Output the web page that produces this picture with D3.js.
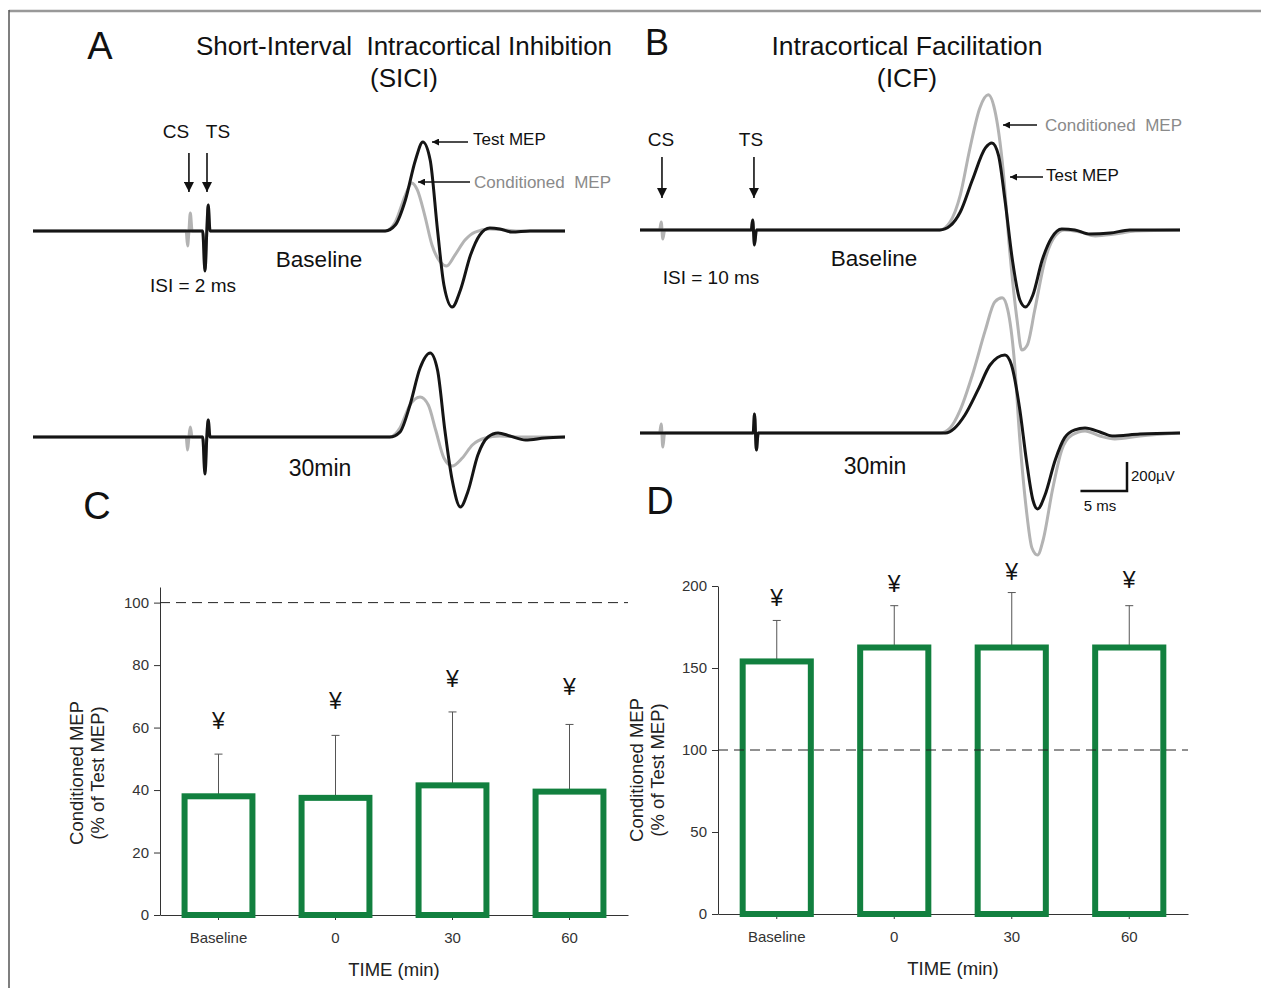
<!DOCTYPE html>
<html>
<head>
<meta charset="utf-8">
<script src="https://cdn.jsdelivr.net/npm/d3@7"></script>
<style>
  body { margin: 0; background: #fff; }
  svg { font-family: "Liberation Sans", Arial, sans-serif; }
  .axis text { font-size: 15px; fill: #333; }
  .axis path, .axis line { stroke: #333; }
</style>
</head>
<body>
<svg id="fig" width="1261" height="988"></svg>
<script>
// ---------- data: EMG traces, [time ms, amplitude uV] ----------
const siciBaseTest = [[0,0],[18.5,0],[18.75,-276],[18.95,0],[19.1,179],[19.3,0],[38.4,0],[39.5,41],[40.6,214],[41.7,490],[42.5,614],[43.3,490],[44.1,7],[44.8,-372],[45.7,-524],[46.6,-407],[47.7,-166],[48.7,-28],[49.8,21],[50.9,14],[52.2,-7],[54.2,0],[58,0]];
const siciBaseCond = [[0,0],[16.7,0],[16.85,-103],[17.0,0],[17.15,124],[17.35,0],[18.5,0],[18.75,-276],[18.95,0],[19.1,179],[19.3,0],[38.4,0],[39.5,62],[40.6,248],[41.3,331],[41.9,283],[42.7,110],[43.5,-97],[44.4,-214],[45.1,-241],[46.0,-166],[47.1,-62],[48.2,-7],[49.8,14],[51.5,7],[53.1,0],[58,0]];
const sici30Test = [[0,0],[18.5,0],[18.75,-255],[18.95,0],[19.1,117],[19.3,0],[38.9,0],[40.0,34],[41.1,221],[42.2,476],[43.3,579],[44.1,462],[44.9,48],[45.7,-297],[46.6,-483],[47.4,-379],[48.5,-124],[49.6,0],[50.7,28],[52.0,7],[53.7,-21],[55.8,-7],[58,0]];
const sici30Cond = [[0,0],[16.7,0],[16.85,-90],[17.0,0],[17.15,69],[17.35,0],[18.5,0],[18.75,-255],[18.95,0],[19.1,117],[19.3,0],[38.9,0],[40.0,62],[41.1,221],[42.2,276],[43.1,221],[43.9,48],[44.8,-145],[45.7,-200],[46.8,-145],[47.9,-55],[49.3,-7],[50.9,7],[53.1,0],[58,0]];

const icfBaseTest = [[0,0],[11.95,0],[12.1,69],[12.3,-103],[12.5,0],[32.2,0],[33.3,28],[34.4,124],[35.7,345],[37.1,566],[37.8,600],[38.5,517],[39.2,207],[40.0,-207],[40.8,-483],[41.4,-531],[42.2,-448],[43.2,-207],[44.2,-55],[45.3,7],[46.7,0],[48.3,-28],[50.5,-21],[52.6,0],[58,0]];
const icfBaseCond = [[0,0],[2.1,0],[2.28,55],[2.45,-62],[2.65,0],[11.95,0],[12.1,69],[12.3,-103],[12.5,0],[32.2,0],[33.3,55],[34.4,241],[35.4,552],[36.5,842],[37.4,932],[38.1,828],[39.0,414],[39.7,-138],[40.5,-621],[41.0,-828],[41.6,-793],[42.4,-552],[43.5,-207],[44.6,-41],[45.6,0],[47.3,-14],[48.9,-41],[51.0,-28],[53.2,-7],[58,0]];
const icf30Test = [[0,0],[12.15,0],[12.3,131],[12.5,-117],[12.7,0],[32.8,0],[33.8,34],[34.9,124],[36.3,297],[37.6,469],[39.2,538],[39.9,469],[40.8,159],[41.5,-186],[42.2,-462],[42.7,-524],[43.5,-428],[44.6,-186],[45.6,-34],[46.7,21],[47.8,34],[49.4,7],[50.7,-21],[53.7,-7],[58,0]];
const icf30Cond = [[0,0],[2.1,0],[2.28,62],[2.45,-97],[2.65,0],[12.15,0],[12.3,131],[12.5,-117],[12.7,0],[32.2,0],[33.3,34],[34.4,159],[35.7,400],[37.1,711],[38.1,904],[38.9,932],[39.5,849],[40.2,504],[40.8,-48],[41.5,-531],[42.1,-793],[42.7,-842],[43.3,-738],[44.3,-393],[45.3,-117],[46.4,-14],[47.8,14],[49.4,-21],[51.0,-41],[53.7,-21],[58,0]];

const siciStim = {cs: 17.0, ts: 18.97};
const icfStim = {cs: 2.36, ts: 12.24};

// ---------- data: bar charts ----------
const categories = ['Baseline', '0', '30', '60'];
const siciMean = [38, 37.5, 41.5, 39.5];
const siciSem = [13.5, 20, 23.5, 21.5];
const siciMark = [62, 68.5, 75.5, 73];
const siciTicks = [0, 20, 40, 60, 80, 100];
const icfMean = [154, 162.5, 162.5, 162.5];
const icfSem = [25, 25.5, 33.5, 25.5];
const icfMark = [193, 201, 208.5, 203.5];
const icfTicks = [0, 50, 100, 150, 200];

const svg = d3.select('#fig');
const GREEN = '#12803f';

// frame
svg.append('line').attr('x1', 9).attr('x2', 1261).attr('y1', 11).attr('y2', 11)
  .attr('stroke', '#999').attr('stroke-width', 2.5);
svg.append('line').attr('x1', 9).attr('x2', 9).attr('y1', 10).attr('y2', 988)
  .attr('stroke', '#555').attr('stroke-width', 1.5);

function txt(x, y, s, size, opts = {}) {
  return svg.append('text').attr('x', x).attr('y', y)
    .attr('font-size', size)
    .attr('text-anchor', opts.anchor || 'middle')
    .attr('fill', opts.fill || '#111')
    .style('white-space', 'pre')
    .text(s);
}

// panel letters + titles
txt(100, 59, 'A', 38);
txt(657, 55, 'B', 36);
txt(97, 519, 'C', 38);
txt(660, 514, 'D', 38);
txt(404, 55, 'Short-Interval  Intracortical Inhibition', 26);
txt(404, 87, '(SICI)', 26);
txt(907, 55, 'Intracortical Facilitation', 26.5);
txt(907, 87, '(ICF)', 26.5);

// ---------- traces ----------
const xA = d3.scaleLinear().domain([0, 58]).range([33, 565]);
const xB = d3.scaleLinear().domain([0, 58]).range([640, 1180]);
const rowY = base => d3.scaleLinear().domain([0, 200]).range([base, base - 29]);
const yA0 = rowY(231), yA1 = rowY(437), yB0 = rowY(230), yB1 = rowY(433);

function trace(data, x, y, color) {
  const line = d3.line().curve(d3.curveMonotoneX)
    .x(d => x(d[0])).y(d => y(d[1]));
  svg.append('path').datum(data).attr('d', line)
    .attr('fill', 'none').attr('stroke', color)
    .attr('stroke-width', 3).attr('stroke-linejoin', 'round');
}
trace(siciBaseCond, xA, yA0, '#b3b3b3');
trace(siciBaseTest, xA, yA0, '#151515');
trace(sici30Cond, xA, yA1, '#b3b3b3');
trace(sici30Test, xA, yA1, '#151515');
trace(icfBaseCond, xB, yB0, '#b3b3b3');
trace(icfBaseTest, xB, yB0, '#151515');
trace(icf30Cond, xB, yB1, '#b3b3b3');
trace(icf30Test, xB, yB1, '#151515');

// arrow heads
const defs = svg.append('defs');
defs.append('marker').attr('id', 'head').attr('viewBox', '0 0 10 10')
  .attr('refX', 10).attr('refY', 5).attr('markerWidth', 7).attr('markerHeight', 7)
  .attr('markerUnits', 'userSpaceOnUse').attr('orient', 'auto')
  .append('path').attr('d', 'M0,0L10,5L0,10Z').attr('fill', '#111');
defs.append('marker').attr('id', 'headv').attr('viewBox', '0 0 10 10')
  .attr('refX', 10).attr('refY', 5).attr('markerWidth', 11).attr('markerHeight', 10)
  .attr('markerUnits', 'userSpaceOnUse').attr('orient', 'auto')
  .append('path').attr('d', 'M0,0L10,5L0,10Z').attr('fill', '#111');

function arrow(x1, y1, x2, y2, m) {
  svg.append('line').attr('x1', x1).attr('y1', y1).attr('x2', x2).attr('y2', y2)
    .attr('stroke', '#111').attr('stroke-width', 1.6).attr('marker-end', `url(#${m})`);
}

// stimulus arrows
arrow(xA(siciStim.cs), 153, xA(siciStim.cs), 192, 'headv');
arrow(xA(siciStim.ts), 153, xA(siciStim.ts), 192, 'headv');
arrow(xB(icfStim.cs), 157, xB(icfStim.cs), 198, 'headv');
arrow(xB(icfStim.ts), 157, xB(icfStim.ts), 198, 'headv');
txt(176, 138, 'CS', 19);
txt(218, 138, 'TS', 19);
txt(661, 146, 'CS', 19);
txt(751, 146, 'TS', 19);

// MEP labels
arrow(468, 142, 432, 142, 'head');
txt(473, 145, 'Test MEP', 17, {anchor: 'start'});
arrow(470, 182, 418, 182, 'head');
txt(474, 188, 'Conditioned  MEP', 17, {anchor: 'start', fill: '#8a8a8a'});
arrow(1037, 125, 1003, 125, 'head');
txt(1045, 131, 'Conditioned  MEP', 17, {anchor: 'start', fill: '#8a8a8a'});
arrow(1043, 177, 1010, 177, 'head');
txt(1046, 181, 'Test MEP', 17, {anchor: 'start'});

txt(319, 267, 'Baseline', 22.5);
txt(874, 266, 'Baseline', 22.5);
txt(193, 292, 'ISI = 2 ms', 19);
txt(711, 284, 'ISI = 10 ms', 19);
txt(320, 476, '30min', 23);
txt(875, 474, '30min', 23);

// scale bar (5 ms x 200 uV)
const sbX = 1127, sbY = 491;
const sbW = xB(5) - xB(0), sbH = yB1(0) - yB1(200);
svg.append('path')
  .attr('d', `M${sbX - sbW},${sbY}H${sbX}V${sbY - sbH}`)
  .attr('fill', 'none').attr('stroke', '#111').attr('stroke-width', 2.5);
txt(1131, 481, '200µV', 15, {anchor: 'start'});
txt(1100, 511, '5 ms', 15);

// ---------- bar charts ----------
function barChart(cfg) {
  const x = d3.scaleBand().domain(categories).range(cfg.xr)
    .paddingInner(0.42).paddingOuter(0.21);
  const y = d3.scaleLinear().domain(cfg.yd).range(cfg.yr);
  const g = svg.append('g');

  g.append('g').attr('class', 'axis')
    .attr('transform', `translate(${cfg.xr[0]},0)`)
    .call(d3.axisLeft(y).tickValues(cfg.ticks).tickSize(6).tickPadding(5).tickSizeOuter(0));
  g.append('g').attr('class', 'axis')
    .attr('transform', `translate(0,${cfg.yr[0]})`)
    .call(d3.axisBottom(x).tickSize(5).tickPadding(12).tickSizeOuter(0));

  const cx = c => x(c) + x.bandwidth() / 2;
  // error bars
  categories.forEach((c, i) => {
    const top = y(cfg.mean[i] + cfg.sem[i]);
    g.append('line').attr('x1', cx(c)).attr('x2', cx(c))
      .attr('y1', y(cfg.mean[i])).attr('y2', top)
      .attr('stroke', '#555').attr('stroke-width', 1);
    g.append('line').attr('x1', cx(c) - 4).attr('x2', cx(c) + 4)
      .attr('y1', top).attr('y2', top)
      .attr('stroke', '#555').attr('stroke-width', 1);
  });

  g.selectAll('rect.bar').data(cfg.mean).join('rect')
    .attr('class', 'bar')
    .attr('x', (d, i) => x(categories[i]))
    .attr('y', d => y(d))
    .attr('width', x.bandwidth())
    .attr('height', d => y(0) - y(d))
    .attr('fill', '#fff').attr('stroke', GREEN).attr('stroke-width', 6);

  // reference line at 100 %
  g.append('line').attr('x1', cfg.xr[0]).attr('x2', cfg.xr[1])
    .attr('y1', y(100)).attr('y2', y(100))
    .attr('stroke', '#222').attr('stroke-dasharray', '10,6');

  g.selectAll('text.mark').data(cfg.mark).join('text')
    .attr('class', 'mark')
    .attr('x', (d, i) => cx(categories[i]))
    .attr('y', d => y(d))
    .attr('dy', '0.35em')
    .attr('text-anchor', 'middle').attr('font-size', 23).attr('fill', '#111')
    .text('¥');

  txt((cfg.xr[0] + cfg.xr[1]) / 2, cfg.yr[0] + 61, 'TIME (min)', 18.5, {fill: '#222'});
  const ly = cfg.labelY;
  svg.append('text').attr('transform', `translate(${cfg.labelX[0]},${ly}) rotate(-90)`)
    .attr('text-anchor', 'middle').attr('font-size', 18.5).attr('fill', '#222')
    .text('Conditioned MEP');
  svg.append('text').attr('transform', `translate(${cfg.labelX[1]},${ly}) rotate(-90)`)
    .attr('text-anchor', 'middle').attr('font-size', 18.5).attr('fill', '#222')
    .text('(% of Test MEP)');
}

barChart({xr: [160, 628], yd: [0, 105], yr: [915, 587], ticks: siciTicks,
  mean: siciMean, sem: siciSem, mark: siciMark, labelX: [83, 104], labelY: 773});
barChart({xr: [718, 1188], yd: [0, 200], yr: [914, 586], ticks: icfTicks,
  mean: icfMean, sem: icfSem, mark: icfMark, labelX: [643, 664], labelY: 770});
</script>
</body>
</html>
